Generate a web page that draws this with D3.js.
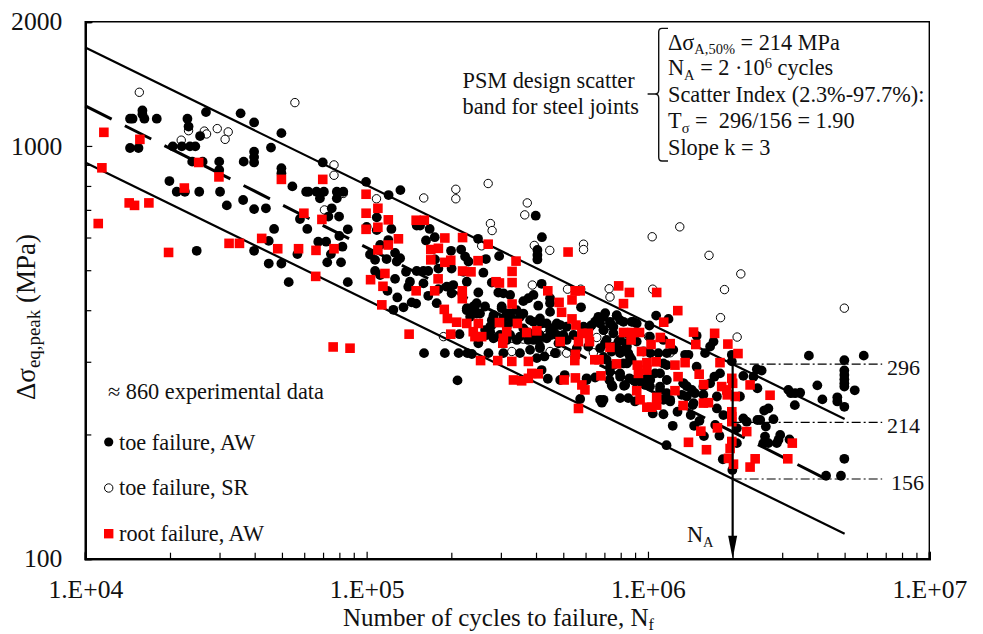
<!DOCTYPE html>
<html>
<head>
<meta charset="utf-8">
<script src="https://cdn.jsdelivr.net/npm/d3@7"></script>
<style>
  html, body { margin: 0; padding: 0; background: #fff; }
  svg { display: block; }
  text { font-family: "Liberation Serif", serif; fill: #111; white-space: pre; }
</style>
</head>
<body>
<div id="chart"></div>
<script>
// every point is [log10(cycles to failure), log10(stress range in MPa)]
const toeFailureAW = [
  [4.159,3.066],[4.168,3.066],[4.203,3.086],[4.203,3.077],[4.210,3.066],[4.254,3.066],[4.159,2.995],[4.189,2.995],
  [4.363,3.066],[4.367,3.047],[4.429,3.082],[4.408,3.024],[4.311,2.999],[4.343,2.999],[4.372,2.999],[4.391,2.999],
  [4.552,3.079],[4.600,3.057],[4.697,3.031],[4.660,2.996],[4.380,2.962],[4.417,2.962],[4.476,2.962],[4.476,2.942],
  [4.563,2.962],[4.600,2.986],[4.600,2.973],[4.600,2.960],[4.697,2.946],[4.697,2.934],[4.299,2.915],[4.325,2.889],
  [4.354,2.889],[4.405,2.889],[4.479,2.889],[4.503,2.856],[4.561,2.869],[4.600,2.847],[4.642,2.849],[4.736,2.902],
  [4.785,2.889],[4.793,2.889],[4.822,2.889],[4.848,2.889],[4.834,2.873],[4.894,2.889],[4.917,2.889],[4.894,2.873],
  [4.876,2.849],[4.864,2.829],[4.902,2.829],[4.763,2.823],[4.789,2.799],[4.671,2.799],[4.652,2.770],[4.600,2.746],
  [4.652,2.715],[4.697,2.715],[4.723,2.670],[4.396,2.746],[4.828,2.768],[4.856,2.768],[4.903,2.782],[4.933,2.798],
  [4.914,2.756],[4.754,2.738],[4.873,2.738],[4.860,2.718],[4.909,2.718],[4.933,2.670],[4.844,2.960],
  [4.998,2.913],[5.078,2.881],[5.120,2.893],[5.601,2.831],[5.036,2.827],[5.000,2.804],[5.036,2.796],[5.088,2.799],
  [5.048,2.760],[5.077,2.772],[5.012,2.737],[5.030,2.724],[5.071,2.726],[5.101,2.741],[5.119,2.728],[5.107,2.720],
  [5.030,2.697],[5.048,2.687],[5.140,2.695],[5.178,2.697],[5.202,2.697],[5.219,2.697],[5.255,2.703],[5.243,2.725],
  [5.178,2.807],[5.190,2.807],[5.224,2.799],[5.211,2.771],[5.242,2.779],[5.300,2.746],[5.336,2.749],[5.350,2.732],
  [5.362,2.720],[5.396,2.775],[5.424,2.726],[5.471,2.733],[5.623,2.779],[5.607,2.748],[5.607,2.736],[5.607,2.725],
  [5.101,2.678],[5.074,2.649],[5.109,2.633],[5.154,2.671],[5.148,2.659],[5.202,2.667],[5.160,2.621],[5.176,2.618],
  [5.131,2.609],[5.095,2.603],[5.219,2.637],[5.255,2.653],[5.285,2.659],[5.356,2.671],[5.397,2.645],[5.308,2.663],
  [5.302,2.643],[5.445,2.669],[5.468,2.645],[5.486,2.643],[5.510,2.639],[5.557,2.624],[5.575,2.631],[5.593,2.639],
  [5.610,2.613],[5.652,2.631],[5.652,2.619],[5.622,2.666],[5.391,2.619],[5.356,2.607],[5.421,2.611],[5.480,2.611],
  [5.249,2.619],[5.302,2.703],[5.415,2.693],[5.344,2.695],
  [5.204,2.498],[5.278,2.498],[5.327,2.498],[5.358,2.498],[5.374,2.496],[5.433,2.498],[5.486,2.498],[5.323,2.432],
  [5.644,2.436],[5.622,2.457],[5.330,2.544],[5.397,2.522],[5.581,2.506],[5.545,2.498],[5.616,2.510],[5.632,2.490],
  [5.670,2.498],[5.688,2.433],[5.356,2.602],[5.385,2.611],[5.391,2.594],[5.451,2.590],[5.445,2.578],[5.498,2.594],
  [5.533,2.602],[5.557,2.594],[5.593,2.574],[5.640,2.570],[5.658,2.558],[5.439,2.562],[5.421,2.554],[5.486,2.582],
  [5.516,2.582],[5.622,2.570],[5.652,2.598],[5.368,2.586],[5.605,2.486],[5.451,2.534],[5.534,2.530],[5.593,2.530],
  [5.498,2.530],[5.427,2.542],[5.468,2.538],[5.545,2.538],[5.575,2.530],[5.610,2.530],[5.640,2.534],[5.676,2.542],
  [5.762,2.609],[5.824,2.586],[5.848,2.595],[5.889,2.589],[5.812,2.574],[5.800,2.566],[5.865,2.570],[5.913,2.574],
  [5.942,2.574],[5.960,2.570],[6.005,2.565],[6.029,2.589],[6.073,2.581],[6.173,2.540],[6.233,2.526],[6.221,2.514],
  [6.203,2.498],[6.144,2.494],[6.298,2.494],[5.895,2.526],[5.889,2.510],[5.925,2.514],[5.670,2.498],[5.676,2.570],
  [5.842,2.554],[5.853,2.530],[5.901,2.498],[5.853,2.482],[5.865,2.465],[6.067,2.498],[6.037,2.498],[6.008,2.498],
  [6.055,2.473],[5.688,2.566],[5.664,2.550],[5.711,2.530],[5.771,2.562],[5.984,2.502],[5.942,2.482],[5.930,2.498],
  [6.173,2.465],[6.298,2.478],[5.925,2.473],[5.948,2.538],[5.830,2.570],[5.788,2.514],[5.747,2.510],[5.830,2.510],
  [5.652,2.554],[5.682,2.522],[5.871,2.502],[5.960,2.526],
  [5.704,2.445],[5.782,2.433],[5.812,2.439],[5.863,2.433],[5.874,2.417],[5.915,2.419],[5.934,2.437],[5.759,2.387],
  [5.830,2.385],[5.842,2.385],[5.836,2.378],[5.901,2.389],[5.930,2.389],[5.954,2.381],[6.055,2.350],[6.017,2.352],
  [6.088,2.322],[6.105,2.356],[6.152,2.348],[6.183,2.334],[6.164,2.322],[6.159,2.372],[6.239,2.324],[6.254,2.298],
  [6.199,2.297],[6.066,2.275],[6.266,2.241],[6.300,2.215],[6.339,2.340],[6.351,2.332],[6.316,2.316],[6.316,2.280],
  [6.167,2.401],[6.197,2.397],[6.067,2.401],[6.079,2.381],[6.067,2.433],[6.138,2.418],[6.156,2.409],[6.236,2.441],
  [6.339,2.443],[6.256,2.449],[6.008,2.433],[5.990,2.421],[6.245,2.364],[6.268,2.348],[6.327,2.393],[6.025,2.449],
  [5.901,2.449],[6.043,2.417],[6.120,2.397],[6.245,2.393],[5.954,2.429],[6.126,2.425],[6.055,2.385],[6.221,2.425],
  [6.387,2.459],[6.404,2.456],[6.375,2.441],[6.389,2.413],[6.413,2.359],[6.428,2.364],[6.389,2.336],[6.399,2.336],
  [6.419,2.320],[6.446,2.338],[6.416,2.296],[6.410,2.280],[6.428,2.280],[6.458,2.280],[6.470,2.300],[6.464,2.288],
  [6.503,2.289],[6.572,2.492],[6.698,2.481],[6.698,2.456],[6.698,2.445],[6.698,2.435],[6.698,2.425],[6.698,2.417],
  [6.767,2.492],[6.602,2.420],[6.620,2.386],[6.673,2.391],[6.673,2.381],[6.698,2.368],[6.735,2.408],[6.499,2.409],
  [6.508,2.401],[6.541,2.402],[6.523,2.401],[6.522,2.372],[6.633,2.201],[6.686,2.201],[6.698,2.242],
  [5.362,2.603],[5.379,2.611],[5.403,2.594],[5.451,2.586],[5.445,2.566],[5.439,2.550],[5.516,2.574],[5.510,2.594],
  [5.480,2.607],[5.545,2.586],[5.581,2.578],[5.616,2.582],[5.676,2.566],[5.699,2.542],[5.711,2.562],[5.474,2.542],
  [5.510,2.542],[5.581,2.542],[5.616,2.542],[5.652,2.542],[5.735,2.542],[5.616,2.514],[5.498,2.562],[5.557,2.558],
  [5.818,2.578],[5.842,2.586],[5.865,2.574],[5.889,2.590],[5.794,2.562],[5.842,2.554],[5.877,2.546],[5.901,2.530],
  [5.924,2.546],[5.901,2.578],[5.948,2.574],[5.877,2.562],[5.924,2.522],[5.847,2.522],[5.877,2.514],[5.913,2.506],
  [5.936,2.489],[5.842,2.489],[5.877,2.469],[5.913,2.473],[5.865,2.453],[5.901,2.441],[5.948,2.433],[5.972,2.429],
  [5.871,2.421],[5.919,2.421],[5.782,2.437],[6.132,2.494],[6.067,2.469],[6.007,2.417],[6.043,2.409],[6.079,2.385],
  [6.138,2.393],[6.126,2.425],[6.162,2.377],[6.197,2.417],[6.055,2.530],[6.007,2.538],[6.090,2.506],[6.043,2.449],
  [5.996,2.437]
];

const toeFailureSR = [
  [4.192,3.130],[4.745,3.105],[4.341,3.014],[4.367,3.037],[4.423,3.036],[4.431,3.029],[4.469,3.042],[4.508,3.034],
  [4.497,3.016],[4.884,2.954],[4.884,2.929],[4.917,2.885],[4.850,2.845],
  [5.035,2.872],[5.203,2.874],[5.317,2.895],[5.317,2.872],[5.432,2.909],[5.440,2.812],[5.446,2.795],[5.571,2.862],
  [5.562,2.833],[5.596,2.759],[5.651,2.747],[5.589,2.663],[5.409,2.758],
  [5.273,2.538],[5.451,2.538],[5.516,2.534],[5.557,2.532],[5.622,2.534],[5.640,2.542],[5.658,2.542],[5.516,2.502],[5.652,2.502],
  [5.771,2.762],[5.771,2.749],[6.015,2.780],[6.113,2.804],[6.217,2.735],[6.330,2.690],[6.272,2.652],[6.258,2.584],
  [6.317,2.537],[5.714,2.653],[5.761,2.653],[5.862,2.654],[5.865,2.634],[6.017,2.653],[6.002,2.538],[5.863,2.545],
  [5.818,2.536],[6.079,2.499],[5.806,2.499],[5.711,2.498],[5.676,2.498],[6.698,2.607]
];

const rootFailureAW = [
  [4.066,3.033],[4.059,2.947],[4.046,2.812],[4.194,3.016],[4.403,2.960],[4.475,2.925],[4.352,2.898],[4.156,2.862],
  [4.175,2.856],[4.226,2.862],[4.296,2.742],[4.511,2.764],[4.548,2.764],[4.627,2.776],[4.684,2.751],[4.758,2.751],
  [4.820,2.747],[4.884,2.751],[4.819,2.684],[4.697,2.919],[4.844,2.919],[4.777,2.837],[4.841,2.822],[4.881,2.513],[4.941,2.510],
  [4.998,2.883],[5.040,2.849],[4.998,2.837],[5.077,2.821],[4.998,2.798],[5.040,2.803],[5.176,2.820],[5.205,2.820],
  [5.113,2.775],[5.077,2.760],[5.040,2.748],[5.278,2.777],[5.341,2.778],[5.432,2.762],[5.228,2.749],[5.255,2.752],
  [5.228,2.724],[5.278,2.718],[5.299,2.723],[5.396,2.722],[5.531,2.721],[5.341,2.697],[5.371,2.695],[5.517,2.696],
  [5.254,2.678],[5.460,2.671],[5.472,2.668],[5.517,2.669],[5.014,2.676],[5.065,2.691],[5.058,2.660],[5.176,2.649],
  [5.242,2.649],[5.340,2.649],[5.340,2.630],[5.644,2.649],[5.517,2.617],[5.054,2.615],[5.276,2.604],[5.684,2.621],
  [5.151,2.544],[5.287,2.582],[5.320,2.573],[5.356,2.570],[5.397,2.570],[5.379,2.550],[5.409,2.538],[5.299,2.544],
  [5.472,2.572],[5.536,2.570],[5.498,2.550],[5.484,2.522],[5.569,2.548],[5.605,2.552],[5.405,2.480],[5.466,2.480],
  [5.516,2.478],[5.575,2.478],[5.587,2.449],[5.610,2.448],[5.522,2.433],[5.551,2.431],[5.575,2.437],[5.688,2.526],
  [5.385,2.538],[5.486,2.534],
  [5.716,2.743],[5.896,2.661],[5.934,2.645],[6.031,2.645],[5.913,2.618],[5.741,2.649],[5.759,2.649],[5.730,2.627],
  [5.693,2.597],[5.730,2.581],[5.744,2.566],[5.765,2.546],[5.788,2.546],[5.753,2.526],[5.792,2.526],[5.865,2.512],
  [5.913,2.548],[5.942,2.548],[5.970,2.548],[5.940,2.530],[6.011,2.519],[6.044,2.536],[6.079,2.521],[6.106,2.601],
  [6.056,2.573],[6.162,2.549],[6.170,2.519],[6.237,2.546],[6.284,2.520],[6.320,2.497],[5.977,2.502],[5.742,2.495],
  [5.740,2.480],[5.811,2.482],[5.826,2.482],[5.888,2.472],[5.962,2.469],[5.996,2.475],[6.029,2.477],[6.096,2.469],
  [6.132,2.475],[6.256,2.475],
  [5.702,2.433],[5.742,2.438],[5.765,2.421],[5.776,2.409],[5.833,2.443],[5.960,2.407],[5.972,2.385],[5.996,2.367],
  [6.013,2.367],[6.031,2.372],[6.031,2.391],[6.096,2.407],[6.107,2.441],[6.182,2.447],[6.198,2.422],[6.125,2.371],
  [6.197,2.377],[6.215,2.378],[6.262,2.417],[6.298,2.437],[6.280,2.409],[6.310,2.393],[6.298,2.356],[6.298,2.332],
  [6.188,2.309],[6.247,2.317],[6.144,2.282],[6.208,2.264],[6.298,2.284],[6.292,2.267],[6.286,2.243],[6.304,2.229],
  [5.753,2.364],[6.351,2.308],[6.363,2.222],[5.966,2.449],[5.996,2.457],[6.363,2.421],
  [6.434,2.396],[6.513,2.280],[6.497,2.242],[6.381,2.242],[6.301,2.425],[6.282,2.397],[6.298,2.344]
];

const bandLines = [
  { stress: [1731, 218], cycles: [1e4, 5e6], dashed: false },
  { stress: [1251, 156], cycles: [1e4, 4.3e6], dashed: true },
  { stress: [912, 115], cycles: [1e4, 5e6], dashed: false }
];
const levels = [296, 214, 156];
const levelEndCycles = 6.8e6;
const NA = 2e6;

const xMajor = [1e4, 1e5, 1e6, 1e7];
const xLabels = ["1.E+04", "1.E+05", "1.E+06", "1.E+07"];
const xMinor = [2e4,3e4,4e4,5e4,6e4,7e4,8e4,9e4,2e5,3e5,4e5,5e5,6e5,7e5,8e5,9e5,2e6,3e6,4e6,5e6,6e6,7e6,8e6,9e6];
const yMajor = [100, 1000, 2000];
const yMinor = [200, 300, 400, 500, 600, 700, 800, 900];

const width = 983;
const height = 634;
const plotLeft = 85.3, plotRight = 929.3, plotTop = 21.7, plotBottom = 558.7;
const textSize = 22.3;

const svg = d3.select("#chart")
  .append("svg")
  .attr("width", width)
  .attr("height", height);

const x = d3.scaleLog().domain([1e4, 1e7]).range([plotLeft, plotRight]);
const y = d3.scaleLog().domain([100, 2000]).range([plotBottom, plotTop]);

// axes, ticks point into the plot
const xAxis = svg.append("g")
  .attr("transform", `translate(0,${plotBottom})`)
  .call(d3.axisBottom(x).tickValues(xMajor).tickSize(-7).tickPadding(21)
    .tickFormat((d, i) => xLabels[i]));
const xAxisMinor = svg.append("g")
  .attr("transform", `translate(0,${plotBottom})`)
  .call(d3.axisBottom(x).tickValues(xMinor).tickSize(-6).tickFormat(""));
const yAxis = svg.append("g")
  .attr("transform", `translate(${plotLeft},0)`)
  .call(d3.axisLeft(y).tickValues(yMajor).tickSize(-7).tickPadding(23)
    .tickFormat(d3.format("d")));
const yAxisMinor = svg.append("g")
  .attr("transform", `translate(${plotLeft},0)`)
  .call(d3.axisLeft(y).tickValues(yMinor).tickSize(-6).tickFormat(""));

[xAxis, xAxisMinor, yAxis, yAxisMinor].forEach(a => {
  a.selectAll("path").attr("stroke", "#000").attr("stroke-width", 2.2);
  a.selectAll("line").attr("stroke", "#000").attr("stroke-width", 1.2);
  a.selectAll("text")
    .style("font-family", '"Liberation Serif", serif')
    .style("font-size", "25.6px")
    .attr("fill", "#111");
});

svg.append("path")
  .attr("d", `M${plotLeft},${plotTop}H${plotRight}V${plotBottom}`)
  .attr("fill", "none")
  .attr("stroke", "#000")
  .attr("stroke-width", 1.4);

const plot = svg.append("g");
const px = d => x(10 ** d[0]);
const py = d => y(10 ** d[1]);

plot.selectAll("circle.sr")
  .data(toeFailureSR)
  .enter()
  .append("circle")
  .attr("class", "sr")
  .attr("cx", px)
  .attr("cy", py)
  .attr("r", 4.2)
  .attr("fill", "#fff")
  .attr("stroke", "#000")
  .attr("stroke-width", 1);

plot.selectAll("circle.aw")
  .data(toeFailureAW)
  .enter()
  .append("circle")
  .attr("class", "aw")
  .attr("cx", px)
  .attr("cy", py)
  .attr("r", 4.9)
  .attr("fill", "#000");

// scatter band
const line = d3.line().x(d => x(d[0])).y(d => y(d[1]));
bandLines.forEach(b => {
  plot.append("path")
    .attr("d", line(b.cycles.map((c, i) => [c, b.stress[i]])))
    .attr("fill", "none")
    .attr("stroke", "#000")
    .attr("stroke-width", b.dashed ? 3 : 2.2)
    .attr("stroke-dasharray", b.dashed ? "29.5,14.8" : null);
});

plot.selectAll("rect.root")
  .data(rootFailureAW)
  .enter()
  .append("rect")
  .attr("class", "root")
  .attr("x", d => px(d) - 4.8)
  .attr("y", d => py(d) - 4.8)
  .attr("width", 9.6)
  .attr("height", 9.6)
  .attr("fill", "#ff0000");

// dash-dot level lines and their values
levels.forEach(v => {
  plot.append("line")
    .attr("x1", x(NA))
    .attr("x2", x(levelEndCycles))
    .attr("y1", y(v))
    .attr("y2", y(v))
    .attr("stroke", "#000")
    .attr("stroke-width", 1.2)
    .attr("stroke-dasharray", "9,3,2,3");
  svg.append("text")
    .attr("x", v === 156 ? 891 : 887)
    .attr("y", y(v) + 11)
    .attr("font-size", 22)
    .text(v);
});

// N_A arrow
plot.append("line")
  .attr("x1", x(NA))
  .attr("x2", x(NA))
  .attr("y1", y(levels[0]))
  .attr("y2", plotBottom - 20)
  .attr("stroke", "#000")
  .attr("stroke-width", 2.2);
plot.append("path")
  .attr("d", `M${x(NA) - 4.5},${plotBottom - 23}h9l-4.5,23z`)
  .attr("fill", "#000");

function label(x0, y0, parts, size, subScale = 0.65, subShift = 0.22) {
  const t = svg.append("text").attr("x", x0).attr("y", y0).attr("font-size", size);
  let last = 0;
  parts.forEach(p => {
    const shift = p.sub ? size * subShift : p.sup ? -size * 0.35 : 0;
    t.append("tspan")
      .attr("dy", shift - last)
      .attr("font-size", p.sub || p.sup ? size * subScale : size)
      .text(p.t);
    last = shift;
  });
  return t;
}

// info box
label(462.5, 87.5, [{ t: "PSM design scatter" }], textSize);
label(462.5, 114, [{ t: "band for steel joints" }], textSize);
label(668, 49.5, [{ t: "Δσ" }, { t: "A,50%", sub: true }, { t: " = 214 MPa" }], textSize);
label(668, 75.4, [{ t: "N" }, { t: "A", sub: true }, { t: " = 2 ·10" }, { t: "6", sup: true }, { t: " cycles" }], textSize);
label(668, 102, [{ t: "Scatter Index (2.3%-97.7%):" }], textSize);
label(668, 128, [{ t: "T" }, { t: "σ", sub: true }, { t: " =  296/156 = 1.90" }], textSize);
label(668, 154.7, [{ t: "Slope k = 3" }], textSize);

svg.append("path")
  .attr("d", "M668,28.4H662Q658.7,28.4 658.7,32V90Q658.7,94 655,94H647.6M655,94Q658.7,94 658.7,98V157Q658.7,161 662,161H668")
  .attr("fill", "none")
  .attr("stroke", "#111")
  .attr("stroke-width", 1.4);

// legend
label(108, 399, [{ t: "≈ 860 experimental data" }], textSize);
label(119, 450, [{ t: "toe failure, AW" }], textSize);
label(119, 495, [{ t: "toe failure, SR" }], textSize);
label(119, 541, [{ t: "root failure, AW" }], textSize);
svg.append("circle").attr("cx", 108.7).attr("cy", 442).attr("r", 4.6).attr("fill", "#000");
svg.append("circle").attr("cx", 108.7).attr("cy", 488).attr("r", 4.2).attr("fill", "#fff").attr("stroke", "#000");
svg.append("rect").attr("x", 104).attr("y", 529).attr("width", 9.4).attr("height", 9.4).attr("fill", "#ff0000");

label(687, 542, [{ t: "N" }, { t: "A", sub: true }], textSize);

// axis titles
label(343, 626, [{ t: "Number of cycles to failure, N" }, { t: "f", sub: true }], 25, 0.65, 0.14);
label(0, 0, [{ t: "Δσ" }, { t: "eq,peak", sub: true }, { t: " (MPa)" }], 27, 0.7)
  .attr("x", null)
  .attr("y", null)
  .attr("transform", "translate(34.5,400) rotate(-90)");
</script>
</body>
</html>
